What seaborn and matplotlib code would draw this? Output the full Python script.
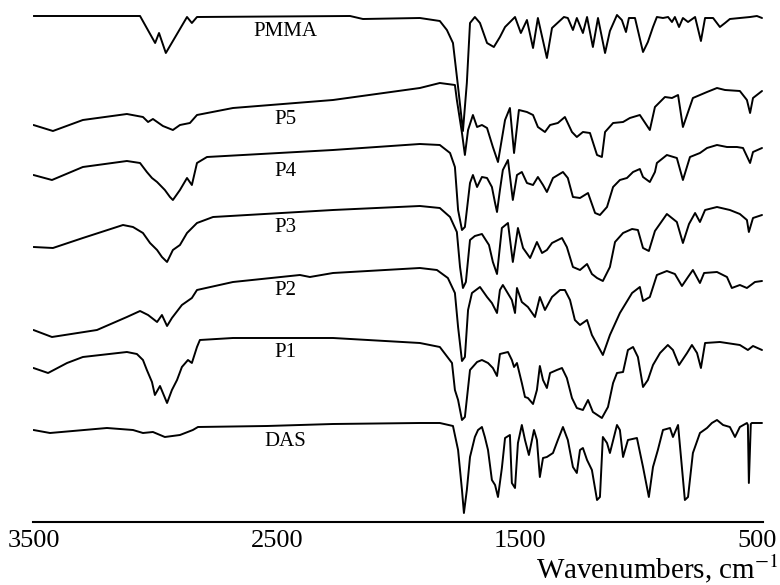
import matplotlib
matplotlib.use("Agg")
import matplotlib.pyplot as plt
import matplotlib.transforms as mtransforms
import seaborn as sns

# FTIR spectra, transmittance in arbitrary units (curves already stacked)
pmma_wn = [3500, 3062, 3000, 2984, 2956, 2869, 2849, 2828, 2199, 2146, 1912,
           1830, 1801, 1776, 1755, 1735, 1719, 1706, 1686, 1665, 1636, 1608,
           1583, 1562, 1521, 1497, 1472, 1447, 1427, 1390, 1369, 1320, 1304,
           1283, 1267, 1242, 1225, 1201, 1180, 1151, 1131, 1102, 1082, 1065,
           1053, 1028, 995, 975, 954, 938, 913, 892, 876, 864, 847, 831, 810,
           781, 757, 740, 707, 679, 658, 638, 597, 555, 527, 506]
pmma_t = [506, 506, 479, 489, 469, 505, 499, 505, 506, 503, 504,
          501, 492, 479, 435, 391, 439, 499, 505, 499, 479, 475,
          485, 495, 505, 489, 502, 474, 504, 464, 494, 505, 504,
          492, 504, 489, 505, 475, 504, 469, 491, 507, 502, 490,
          504, 504, 470, 480, 495, 505, 504, 505, 500, 505, 495, 504, 500,
          505, 481, 504, 504, 495, 499, 503, 504, 505, 506, 504]

p5_wn = [3500, 3420, 3297, 3116, 3050, 3029, 3009, 2968, 2927, 2898, 2857,
         2828, 2680, 2269, 1912, 1830, 1768, 1760, 1739, 1727, 1714, 1694,
         1677, 1657, 1636, 1612, 1591, 1562, 1542, 1525, 1505, 1472, 1447,
         1427, 1398, 1377, 1345, 1316, 1287, 1267, 1242, 1213, 1184, 1164,
         1151, 1118, 1077, 1049, 1008, 967, 946, 905, 876, 851, 831, 790,
         732, 691, 658, 597, 568, 555, 543, 506]
p5_t = [397, 391, 402, 408, 405, 400, 403, 396, 392, 397, 399,
        407, 414, 422, 434, 439, 437, 422, 389, 367, 392, 407,
        395, 397, 394, 375, 360, 402, 414, 369, 412, 410, 407,
        395, 390, 397, 399, 405, 390, 385, 390, 389, 367, 365,
        390, 399, 400, 404, 407, 392, 415, 425, 424, 427, 395, 424,
        430, 434, 432, 431, 422, 409, 424, 431]

p4_wn = [3500, 3424, 3297, 3116, 3062, 3034, 3013, 2992, 2960, 2939, 2927,
         2898, 2869, 2849, 2828, 2787, 2269, 1912, 1830, 1788, 1768, 1755,
         1739, 1727, 1706, 1694, 1677, 1657, 1636, 1616, 1603, 1595, 1583,
         1571, 1550, 1530, 1513, 1493, 1472, 1447, 1427, 1406, 1390, 1365,
         1324, 1304, 1283, 1254, 1221, 1192, 1172, 1143, 1118, 1090, 1061,
         1036, 1008, 995, 967, 946, 938, 897, 856, 831, 802, 761, 732, 691,
         650, 609, 584, 555, 543, 506]
p4_t = [347, 342, 355, 361, 359, 350, 344, 340, 332, 325, 322,
        332, 344, 337, 359, 365, 372, 378, 377, 369, 355, 312,
        292, 295, 339, 347, 335, 345, 344, 335, 319, 310, 332,
        352, 362, 322, 347, 350, 339, 337, 345, 337, 330, 344,
        350, 344, 325, 324, 329, 309, 307, 315, 335, 342, 344,
        350, 353, 345, 340, 350, 359, 367, 364, 342, 365, 369, 374, 377,
        375, 375, 374, 359, 370, 374]

p3_wn = [3500, 3420, 3297, 3132, 3091, 3050, 3021, 2992, 2972, 2951, 2927,
         2898, 2869, 2828, 2762, 2269, 1912, 1830, 1788, 1760, 1747, 1735,
         1723, 1706, 1686, 1657, 1628, 1612, 1595, 1575, 1550, 1530, 1509,
         1488, 1459, 1431, 1410, 1390, 1369, 1328, 1308, 1283, 1254, 1225,
         1205, 1184, 1160, 1131, 1110, 1077, 1040, 1016, 995, 971, 946, 897,
         856, 831, 806, 781, 761, 740, 691, 638, 597, 568, 560, 543, 506]
p3_t = [275, 274, 284, 297, 295, 289, 279, 272, 265, 260, 272,
        277, 289, 299, 305, 312, 316, 314, 305, 290, 255, 234,
        240, 282, 286, 288, 277, 260, 248, 294, 299, 260, 294,
        274, 264, 280, 269, 272, 279, 284, 275, 255, 252, 258,
        248, 244, 241, 255, 280, 289, 293, 292, 274, 271, 291, 308,
        300, 279, 298, 309, 300, 312, 315, 312, 308, 302, 290, 304, 307]

p2_wn = [3500, 3424, 3239, 3116, 3062, 3029, 2992, 2972, 2951, 2931, 2890,
         2849, 2828, 2680, 2405, 2364, 2269, 1912, 1842, 1797, 1768, 1755,
         1739, 1727, 1714, 1698, 1665, 1636, 1616, 1595, 1583, 1571, 1534,
         1521, 1513, 1493, 1468, 1439, 1419, 1398, 1369, 1336, 1316, 1295,
         1275, 1254, 1225, 1205, 1160, 1131, 1090, 1040, 1008, 995, 967, 938,
         897, 864, 835, 810, 790, 761, 744, 691, 650, 630, 597, 568, 535, 506]
p2_t = [192, 185, 192, 205, 211, 207, 200, 207, 196, 204, 217,
        224, 232, 240, 247, 245, 249, 254, 252, 244, 229, 195,
        161, 165, 212, 229, 235, 225, 219, 209, 232, 237, 222,
        209, 234, 220, 215, 205, 225, 212, 225, 232, 232, 222,
        202, 197, 202, 187, 167, 187, 209, 229, 235, 221, 225, 247,
        251, 248, 236, 245, 252, 239, 249, 250, 245, 234, 237, 234, 240, 241]

p1_wn = [3500, 3440, 3362, 3297, 3116, 3075, 3050, 3034, 3013, 3001, 2980,
         2968, 2951, 2931, 2910, 2890, 2865, 2849, 2828, 2816, 2680, 2269,
         1912, 1830, 1780, 1768, 1755, 1739, 1727, 1706, 1677, 1657, 1632,
         1612, 1595, 1583, 1550, 1534, 1525, 1513, 1493, 1480, 1468, 1447,
         1431, 1419, 1406, 1390, 1377, 1349, 1328, 1308, 1287, 1267, 1242,
         1221, 1201, 1164, 1139, 1118, 1102, 1077, 1057, 1036, 1016, 995, 975,
         954, 925, 893, 872, 847, 814, 794, 773, 757, 740, 679, 597, 564,
         543, 506]
p1_t = [154, 149, 159, 165, 170, 168, 162, 152, 140, 127, 136,
        129, 119, 132, 142, 155, 162, 159, 175, 182, 184, 184,
        179, 175, 159, 132, 122, 102, 105, 152, 160, 162, 159,
        154, 146, 168, 170, 162, 155, 159, 139, 125, 124, 118,
        132, 156, 142, 134, 149, 152, 154, 144, 124, 114, 112,
        122, 110, 104, 115, 139, 149, 150, 172, 175, 165, 135, 142,
        157, 169, 177, 172, 157, 169, 177, 169, 154, 179, 180, 177, 172,
        176, 172]

das_wn = [3500, 3432, 3198, 3091, 3050, 3009, 2960, 2898, 2845, 2824, 2540,
          2269, 1912, 1830, 1776, 1755, 1739, 1731, 1719, 1706, 1686, 1673,
          1657, 1645, 1632, 1616, 1603, 1591, 1575, 1562, 1542, 1534, 1521,
          1509, 1493, 1480, 1464, 1443, 1431, 1419, 1406, 1390, 1365, 1345,
          1324, 1304, 1283, 1267, 1254, 1242, 1225, 1205, 1184, 1172, 1160,
          1143, 1131, 1102, 1090, 1077, 1057, 1020, 995, 971, 954, 934, 913,
          884, 872, 851, 839, 823, 810, 790, 761, 732, 712, 691, 666, 638,
          617, 597, 568, 564, 560, 552, 548, 506]
das_t = [92, 89, 94, 92, 89, 90, 85, 87, 92, 95, 96,
         98, 99, 99, 96, 72, 32, 9, 32, 65, 85, 92,
         95, 85, 72, 42, 37, 25, 54, 84, 87, 39, 34,
         79, 97, 82, 67, 92, 82, 45, 64, 65, 69, 82,
         95, 82, 55, 49, 72, 74, 62, 52, 22, 25, 85,
         79, 69, 97, 92, 65, 82, 84, 55, 25, 55, 72, 92,
         94, 85, 97, 65, 22, 25, 69, 89, 94, 99, 102, 97, 95,
         85, 95, 99, 97, 39, 98, 99, 99]

sample_names = ["PMMA", "P5", "P4", "P3", "P2", "P1", "DAS"]
label_wn = 2466
label_t = [490, 402, 350, 294, 231, 169, 80]

sns.set_style("white")
plt.rcParams["font.family"] = ["Liberation Serif", "DejaVu Serif"]
plt.rcParams["mathtext.fontset"] = "stix"

fig = plt.figure(figsize=(7.8, 5.85), dpi=100)
ax = fig.add_axes([0.0429, 0.1077, 0.9359, 0.8923])

spectra = [(pmma_wn, pmma_t), (p5_wn, p5_t), (p4_wn, p4_t), (p3_wn, p3_t),
           (p2_wn, p2_t), (p1_wn, p1_t), (das_wn, das_t)]
for wn, t in spectra:
    sns.lineplot(x=wn, y=t, ax=ax, color="black", linewidth=1.4,
                 sort=False, estimator=None)

for name, y in zip(sample_names, label_t):
    ax.text(label_wn, y, name, ha="center", va="center", fontsize=15,
            color="black")

ax.set_xlim(3500, 500)
ax.set_ylim(0, 522)
ax.set_xticks([3500, 3000, 2500, 2000, 1500, 1000, 500])
ax.set_xticklabels(["3500", "", "2500", "", "1500", "", "500"])
ax.set_yticks([])
ax.tick_params(axis="x", direction="in", length=7, width=1.5,
               labelsize=19, pad=6, color="black", labelcolor="black")
# nudge the last label so it stays inside the figure
last = ax.get_xticklabels()[-1]
last.set_transform(last.get_transform() +
                   mtransforms.ScaledTranslation(-0.06, 0, fig.dpi_scale_trans))
for side in ["left", "top", "right"]:
    ax.spines[side].set_visible(False)
ax.spines["bottom"].set_linewidth(1.5)
ax.spines["bottom"].set_color("black")
ax.set_xlabel("")
ax.set_ylabel("")

fig.text(0.998, 0.012, r"Wavenumbers, cm$^{-1}$", ha="right", va="baseline",
         fontsize=21, color="black")

fig.savefig("out.png", dpi=100)
